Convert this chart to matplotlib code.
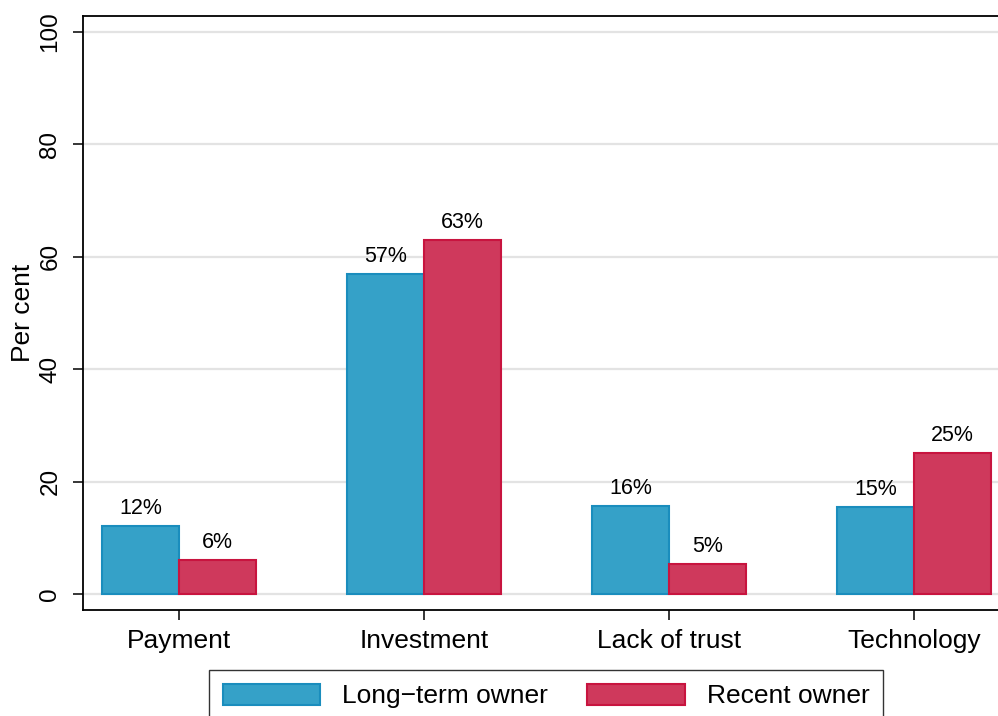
import numpy as np
import matplotlib.pyplot as plt

# data
categories = ['Payment', 'Investment', 'Lack of trust', 'Technology']
long_term = [12.1, 56.9, 15.6, 15.4]
recent = [6.1, 63.0, 5.3, 25.1]
series_names = ['Long\u2212term owner', 'Recent owner']
yticks = [0, 20, 40, 60, 80, 100]

plt.rcParams['font.family'] = ['Liberation Sans', 'DejaVu Sans']

fig = plt.figure(figsize=(9.98, 7.16), dpi=100)
# plot region runs past the right edge, as in the reference crop
ax = fig.add_axes([83 / 998, 1 - 610 / 716, 927 / 998, 594 / 716])

x = np.arange(len(categories))
w = 0.314
b1 = ax.bar(x - w / 2, long_term, w, color='#35a1c8', edgecolor='#1a8dbd',
            linewidth=1.5, label=series_names[0], zorder=3)
b2 = ax.bar(x + w / 2, recent, w, color='#cf395c', edgecolor='#c8143f',
            linewidth=1.5, label=series_names[1], zorder=3)

for bars, vals in ((b1, long_term), (b2, recent)):
    ax.bar_label(bars, labels=[f'{v:.0f}%' for v in vals], padding=5, fontsize=15.5)

ax.set_xlim(-0.392, 3.392)
ax.set_ylim(-2.85, 102.85)
ax.set_xticks(x)
ax.set_xticklabels(categories, fontsize=19)
ax.set_yticks(yticks)
ax.set_yticklabels([str(t) for t in yticks], fontsize=17.5, rotation=90, va='center')
ax.tick_params(axis='both', length=7.5, width=1.1, color='black')
ax.tick_params(axis='x', pad=6)
ax.tick_params(axis='y', pad=8)
ax.set_ylabel('Per cent', fontsize=19, labelpad=3)

ax.grid(axis='y', color='#e3e3e3', linewidth=1.6, zorder=0)
ax.set_axisbelow(True)
for s in ax.spines.values():
    s.set_linewidth(1.3)
    s.set_color('black')

leg = fig.legend(handles=[b1, b2], loc='center',
                 bbox_to_anchor=(546 / 998, 1 - 696 / 716), ncol=2, fontsize=19,
                 frameon=True, fancybox=False, edgecolor='black',
                 handlelength=3.7, handleheight=0.87, handletextpad=0.82,
                 columnspacing=1.5, borderpad=0.5)
leg.get_frame().set_linewidth(1.0)

fig.savefig('out.png', dpi=100)
